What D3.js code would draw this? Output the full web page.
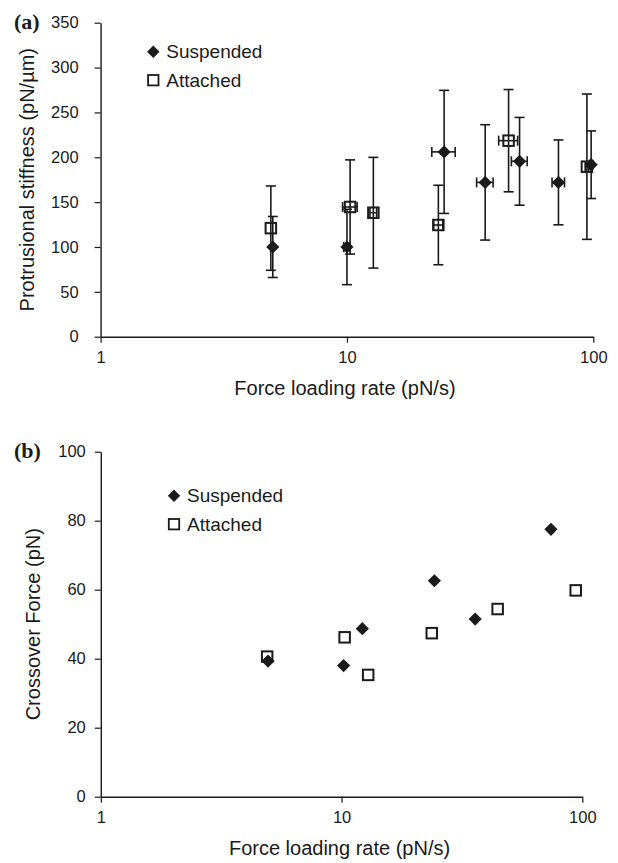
<!DOCTYPE html>
<html>
<head>
<meta charset="utf-8">
<script src="https://cdn.jsdelivr.net/npm/d3@7"></script>
<style>
  html, body { margin: 0; padding: 0; background: #fff; }
  svg { display: block; }
</style>
</head>
<body>
<svg id="chart" width="618" height="863"></svg>
<script>
// Panel (a): protrusional stiffness vs force loading rate (mean ± SD)
const stiffSuspX    = [5, 10, 24.8, 36.4, 50.2, 72.2, 98];
const stiffSuspXErr = [0, 0.3, 2.7, 2.8, 3.7, 4.2, 1.5];
const stiffSuspY    = [100, 100, 206, 172, 195.5, 172, 191.7];
const stiffSuspYErr = [34, 42, 68.6, 64.3, 48.9, 47.3, 37.7];

const stiffAttX     = [4.91, 10.3, 12.8, 23.5, 45.3, 94.2];
const stiffAttXErr  = [0, 0.7, 0.4, 1.0, 4, 1.5];
const stiffAttY     = [121, 144.6, 138.2, 124.5, 218.5, 189.5];
const stiffAttYErr  = [47, 52.5, 61.7, 44.3, 57, 81];

// Panel (b): crossover force vs force loading rate
const crossSuspX = [4.95, 10.2, 12.2, 24.3, 35.9, 74.1];
const crossSuspY = [39.3, 38, 48.7, 62.6, 51.5, 77.5];
const crossAttX  = [4.91, 10.3, 12.9, 23.7, 44.5, 93.9];
const crossAttY  = [40.6, 46.2, 35.3, 47.4, 54.4, 59.8];

const xTicks      = [1, 10, 100];
const stiffTicks  = [0, 50, 100, 150, 200, 250, 300, 350];
const crossTicks  = [0, 20, 40, 60, 80, 100];
const seriesNames = ["Suspended", "Attached"];

const svg = d3.select("#chart");
const INK = "#1a1a1a";
const SANS = "'Liberation Sans', Arial, sans-serif";
const SERIF = "'Liberation Serif', 'Times New Roman', serif";

function zip(xs, ys, xe, ye) {
  return xs.map((x, i) => ({ x, y: ys[i], xe: xe ? xe[i] : 0, ye: ye ? ye[i] : 0 }));
}

function drawPanel(cfg) {
  const g = svg.append("g").style("font-family", SANS);
  const x = d3.scaleLog().domain([1, 100]).range([cfg.left, cfg.right]);
  const y = d3.scaleLinear().domain([0, cfg.yMax]).range([cfg.bottom, cfg.top]);

  // axes
  const xAxis = d3.axisBottom(x).tickValues(xTicks).tickFormat(d3.format("d"))
    .tickSize(6).tickSizeOuter(0).tickPadding(7);
  const yAxis = d3.axisLeft(y).tickValues(cfg.yTicks).tickFormat(d3.format("d"))
    .tickSize(6).tickSizeOuter(0).tickPadding(cfg.yPad);

  const gx = g.append("g").attr("transform", `translate(0,${cfg.bottom})`).call(xAxis);
  const gy = g.append("g").attr("transform", `translate(${cfg.left},0)`).call(yAxis);
  [gx, gy].forEach(a => {
    a.attr("font-family", null).attr("font-size", null);
    a.select(".domain").attr("stroke", INK).attr("stroke-width", 1.4);
    a.selectAll(".tick line").attr("stroke", INK).attr("stroke-width", 1.2);
    a.selectAll(".tick text").style("font-size", "16.5px").attr("fill", INK)
      .style("font-family", SANS);
  });
  gx.selectAll(".tick text").attr("dy", "0.8em");

  // axis titles
  g.append("text")
    .attr("x", (cfg.left + cfg.right) / 2 - 2)
    .attr("y", cfg.bottom + 58)
    .attr("text-anchor", "middle")
    .attr("fill", INK)
    .style("font-size", "20px")
    .text("Force loading rate (pN/s)");
  g.append("text")
    .attr("transform", `translate(${cfg.yTitleX},${(cfg.top + cfg.bottom) / 2}) rotate(-90)`)
    .attr("text-anchor", "middle")
    .attr("fill", INK)
    .style("font-size", "20px")
    .text(cfg.yTitle);

  // panel tag
  g.append("text")
    .attr("x", 14).attr("y", cfg.top + 6)
    .attr("fill", INK)
    .style("font-family", SERIF)
    .style("font-weight", "bold")
    .style("font-size", "22px")
    .text(cfg.tag);

  const capW = 5;
  const bars = g.append("g").attr("stroke", INK).attr("stroke-width", 1.6).attr("fill", "none");
  function errorBars(data) {
    data.forEach(d => {
      if (d.ye > 0) {
        const px = x(d.x), y0 = y(d.y - d.ye), y1 = y(d.y + d.ye);
        bars.append("line").attr("x1", px).attr("x2", px).attr("y1", y0).attr("y2", y1);
        bars.append("line").attr("x1", px - capW).attr("x2", px + capW).attr("y1", y0).attr("y2", y0);
        bars.append("line").attr("x1", px - capW).attr("x2", px + capW).attr("y1", y1).attr("y2", y1);
      }
      if (d.xe > 0) {
        const py = y(d.y), x0 = x(d.x - d.xe), x1 = x(d.x + d.xe);
        bars.append("line").attr("x1", x0).attr("x2", x1).attr("y1", py).attr("y2", py);
        bars.append("line").attr("x1", x0).attr("x2", x0).attr("y1", py - capW).attr("y2", py + capW);
        bars.append("line").attr("x1", x1).attr("x2", x1).attr("y1", py - capW).attr("y2", py + capW);
      }
    });
  }
  errorBars(cfg.att);
  errorBars(cfg.susp);

  const sq = 10.5, dm = 6.6;
  const diamond = (cx, cy, r) => `M${cx},${cy - r}L${cx + r},${cy}L${cx},${cy + r}L${cx - r},${cy}Z`;

  // attached: open squares
  g.append("g").selectAll("rect").data(cfg.att).join("rect")
    .attr("x", d => x(d.x) - sq / 2).attr("y", d => y(d.y) - sq / 2)
    .attr("width", sq).attr("height", sq)
    .attr("fill", cfg.fillSquares ? "none" : "#fff")
    .attr("stroke", INK).attr("stroke-width", 2);
  // suspended: filled diamonds
  g.append("g").selectAll("path").data(cfg.susp).join("path")
    .attr("d", d => diamond(x(d.x), y(d.y), dm))
    .attr("fill", INK);

  // legend
  const lg = g.append("g");
  lg.append("path").attr("d", diamond(cfg.legX, cfg.legY, 6.2)).attr("fill", INK);
  lg.append("rect").attr("x", cfg.legX - 5.2).attr("y", cfg.legY + 28.5 - 5.2)
    .attr("width", 10.4).attr("height", 10.4).attr("fill", "#fff")
    .attr("stroke", INK).attr("stroke-width", 1.8);
  seriesNames.forEach((n, i) => {
    lg.append("text").attr("x", cfg.legX + 13).attr("y", cfg.legY + 6.5 + i * 28.5)
      .attr("fill", INK).style("font-size", "19px").text(n);
  });
}

drawPanel({
  tag: "(a)",
  left: 100.6, right: 593.3, top: 22.7, bottom: 336.7,
  yMax: 350, yTicks: stiffTicks, yPad: 16,
  yTitle: "Protrusional stiffness (pN/\u00b5m)", yTitleX: 34,
  susp: zip(stiffSuspX, stiffSuspY, stiffSuspXErr, stiffSuspYErr),
  att: zip(stiffAttX, stiffAttY, stiffAttXErr, stiffAttYErr),
  fillSquares: true,
  legX: 153.3, legY: 51.7
});

drawPanel({
  tag: "(b)",
  left: 100.8, right: 582.3, top: 451.7, bottom: 796.7,
  yMax: 100, yTicks: crossTicks, yPad: 9,
  yTitle: "Crossover Force (pN)", yTitleX: 40,
  susp: zip(crossSuspX, crossSuspY),
  att: zip(crossAttX, crossAttY),
  fillSquares: false,
  legX: 174, legY: 495.7
});
</script>
</body>
</html>
